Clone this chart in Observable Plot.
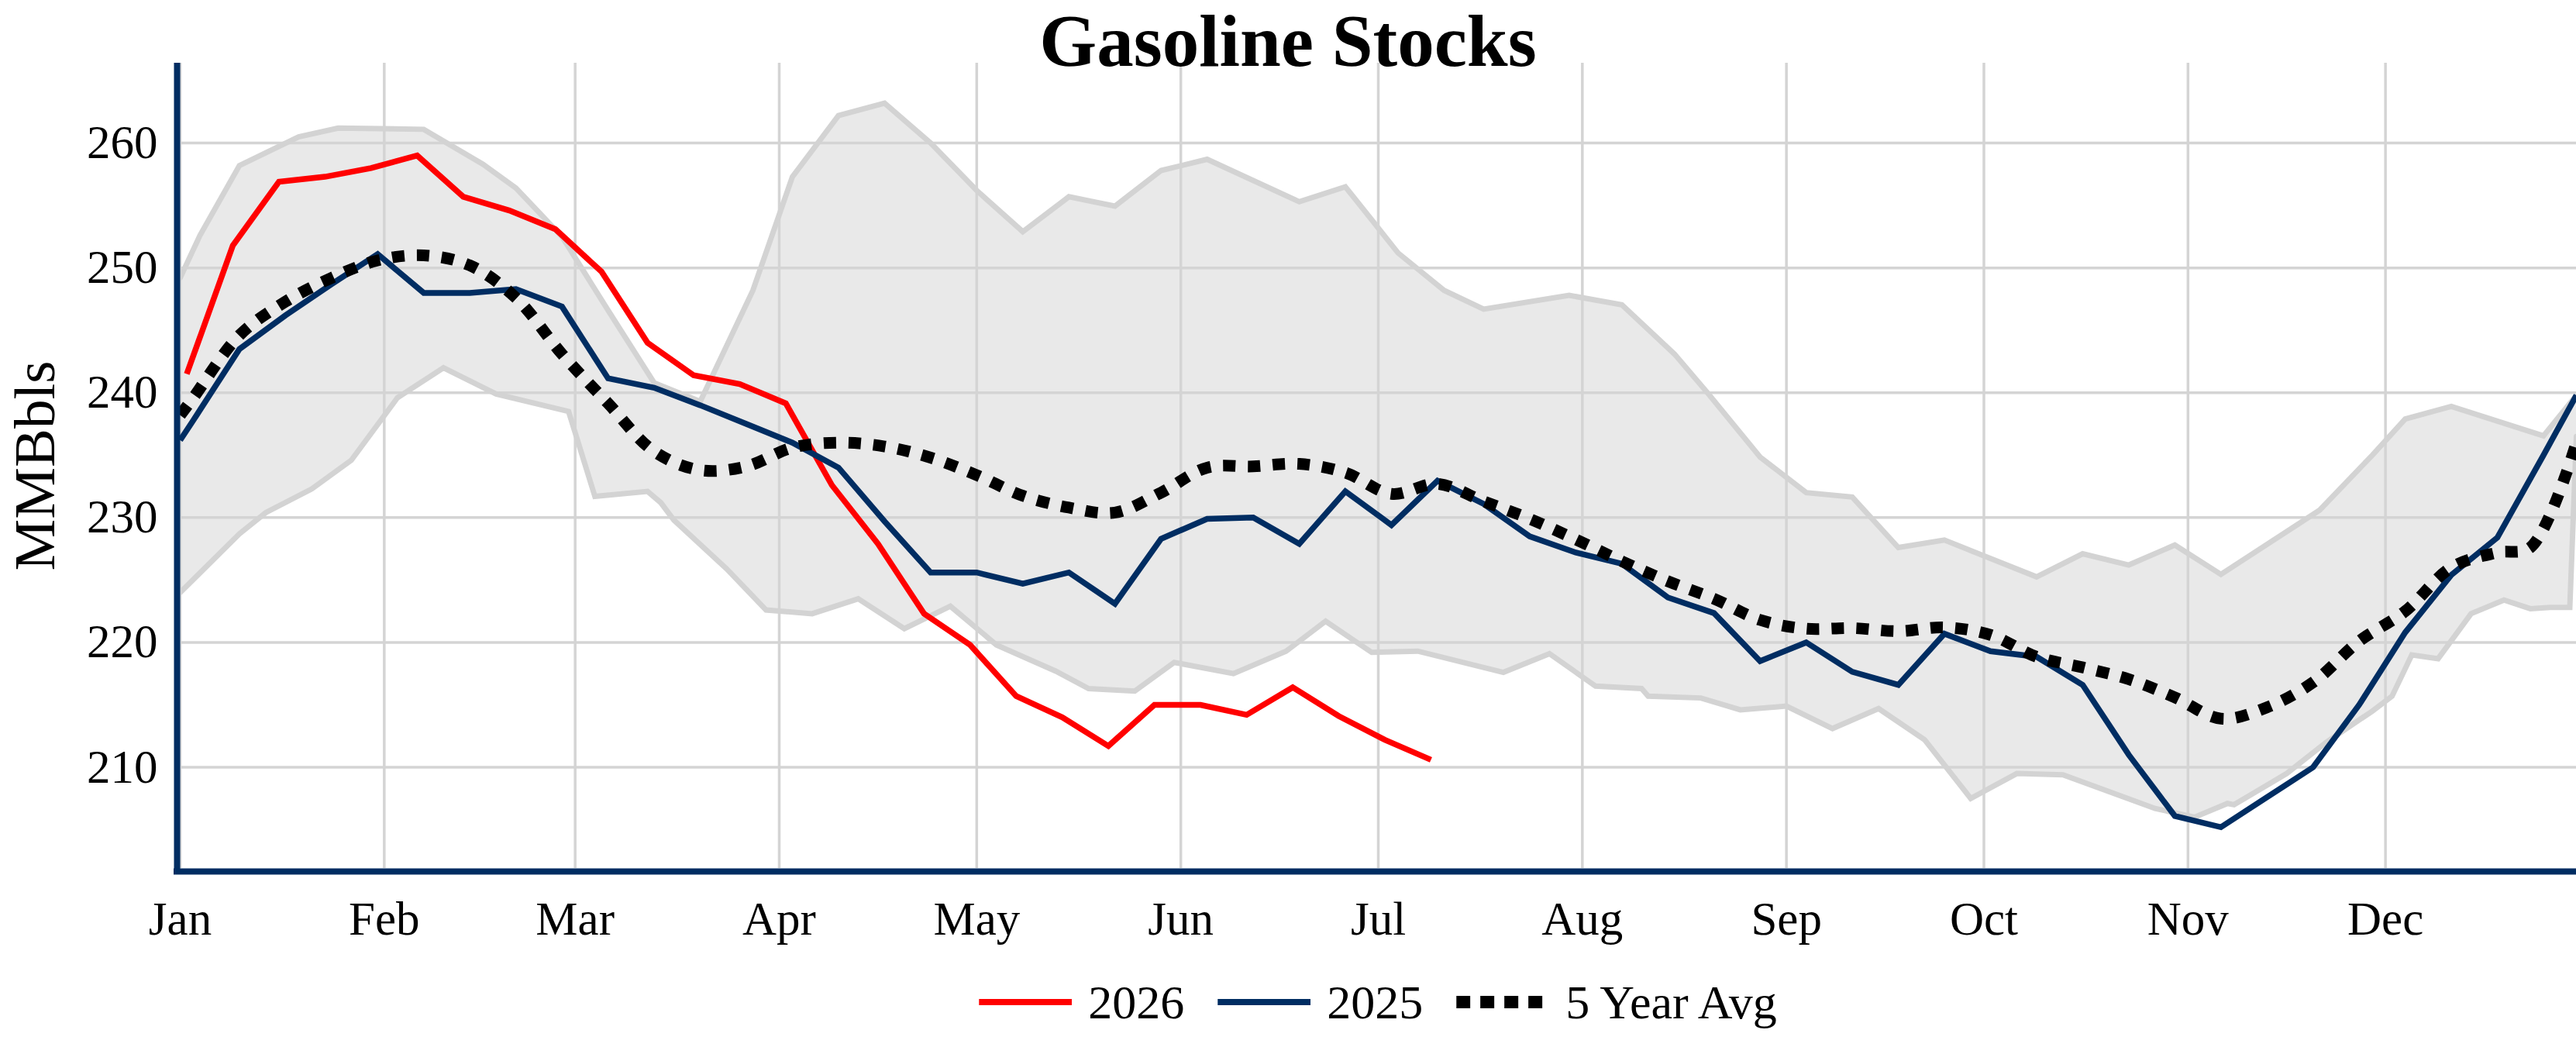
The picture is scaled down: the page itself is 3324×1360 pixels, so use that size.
<!DOCTYPE html>
<html>
<head>
<meta charset="utf-8">
<script src="https://cdn.jsdelivr.net/npm/d3@7"></script>
<script src="https://cdn.jsdelivr.net/npm/@observablehq/plot@0.6"></script>
<style>
html, body { margin: 0; padding: 0; background: #fff; }
#wrap { position: relative; width: 3324px; height: 1360px; overflow: hidden; font-family: "Liberation Serif", "Times New Roman", serif; color: #000; }
#chart { position: absolute; left: 0; top: 0; }
#title { position: absolute; left: 0; top: 0; width: 3324px; text-align: center; font-weight: bold; font-size: 95px; line-height: 106px; }
#legend { position: absolute; top: 1258px; left: 1778px; transform: translateX(-50%); display: flex; align-items: center; height: 70px; font-size: 62px; line-height: 70px; white-space: nowrap; }
#legend .item { display: flex; align-items: center; }
#legend svg { margin-right: 21px; }
#legend .lab { margin-right: 43px; }
#legend .item:last-child .lab { margin-right: 0; }
</style>
</head>
<body>
<div id="wrap">
  <div id="chart"></div>
  <div id="title">Gasoline Stocks</div>
  <div id="legend"></div>
</div>
<script>
// ---------- data ----------
const monthLabels = ["Jan","Feb","Mar","Apr","May","Jun","Jul","Aug","Sep","Oct","Nov","Dec"];
const yTicks = [210, 220, 230, 240, 250, 260];

const dates2026 = ["2026-01-02","2026-01-09","2026-01-16","2026-01-23","2026-01-30",
  "2026-02-06","2026-02-13","2026-02-20","2026-02-27",
  "2026-03-06","2026-03-13","2026-03-20","2026-03-27",
  "2026-04-03","2026-04-10","2026-04-17","2026-04-24",
  "2026-05-01","2026-05-08","2026-05-15","2026-05-22","2026-05-29",
  "2026-06-05","2026-06-12","2026-06-19","2026-06-26",
  "2026-07-03","2026-07-10"];
const stocks2026 = [241.5,251.8,256.9,257.3,258.0,259.0,255.7,254.6,253.1,249.7,244.0,241.4,240.7,239.15,
  232.6,227.9,222.3,219.8,215.7,214.0,211.7,215.0,215.0,214.2,216.4,214.1,212.2,210.6];

const dates2025 = ["2025-01-01","2025-01-03","2025-01-10","2025-01-17","2025-01-24","2025-01-31",
  "2025-02-07","2025-02-14","2025-02-21","2025-02-28",
  "2025-03-07","2025-03-14","2025-03-21","2025-03-28",
  "2025-04-04","2025-04-11","2025-04-18","2025-04-25",
  "2025-05-02","2025-05-09","2025-05-16","2025-05-23","2025-05-30",
  "2025-06-06","2025-06-13","2025-06-20","2025-06-27",
  "2025-07-04","2025-07-11","2025-07-18","2025-07-25",
  "2025-08-01","2025-08-08","2025-08-15","2025-08-22","2025-08-29",
  "2025-09-05","2025-09-12","2025-09-19","2025-09-26",
  "2025-10-03","2025-10-10","2025-10-17","2025-10-24","2025-10-31",
  "2025-11-07","2025-11-14","2025-11-21","2025-11-28",
  "2025-12-05","2025-12-12","2025-12-19","2025-12-26","2025-12-31"];
const stocks2025 = [236.2,237.8,243.5,246.2,248.7,251.1,248.0,248.0,248.3,246.9,241.15,240.4,239.0,237.5,
  236.0,234.0,229.7,225.6,225.6,224.7,225.6,223.1,228.3,229.9,230.0,227.9,232.1,229.4,232.95,231.1,
  228.5,227.2,226.3,223.6,222.35,218.5,220.0,217.65,216.6,220.7,219.3,218.85,216.6,211.0,206.1,205.2,
  207.6,210.0,215.0,220.8,225.4,228.4,235.0,239.8];

// day-of-year positions (0 = Jan 1) for the 5-year statistics
const avgDay = [0,2,9,16,23,30,37,44,51,58,65,72,79,86,93,100,107,114,121,128,135,142,149,156,163,170,177,184,
  191,198,205,212,219,226,233,240,247,254,261,268,275,282,289,296,303,310,317,324,331,338,345,352,357,364];
const avgValue = [238.2,239.6,244.6,247.3,249.2,250.6,251.0,250.2,247.6,243.1,239.15,235.3,233.8,234.1,235.6,
  236.0,235.7,234.8,233.4,231.75,230.8,230.4,232.0,234.0,234.1,234.3,233.6,231.9,232.7,231.3,229.9,228.25,
  226.5,224.9,223.5,221.8,221.1,221.15,220.9,221.2,220.6,218.85,218.0,217.05,215.6,213.9,214.8,216.8,220.1,
  222.5,226.0,227.2,227.6,236.0];

const upperDay = [0,3,9,18,24,37,46,51,58,65,72,79,87,93,100,107,114,121,128,135,142,149,156,170,177,185,192,
  198,211,219,227,232,240,247,254,261,268,282,289,296,303,310,325,333,338,345,359,364];
const upperValue = [249.2,252.6,258.2,260.5,261.2,261.1,258.3,256.4,252.5,246.6,240.8,239.3,248.2,257.3,262.2,
  263.2,260.0,256.2,252.9,255.7,254.95,257.8,258.7,255.3,256.5,251.2,248.2,246.7,247.8,247.05,243.1,240.0,
  234.85,232.0,231.65,227.6,228.2,225.25,227.1,226.2,227.8,225.45,230.6,235.0,237.9,238.9,236.55,239.8];

const lowerDay = [0,9,13,20,26,33,40,48,59,63,71,73,75,83,89,96,103,110,117,124,133,138,145,151,160,168,174,
  181,188,201,208,215,222,223,231,237,244,251,258,265,272,279,286,300,306,311,312,320,326,333,336,339,343,
  348,353,357,360,363,364];
const lowerValue = [224.0,228.7,230.4,232.3,234.6,239.6,242.0,239.9,238.5,231.7,232.1,231.2,229.8,225.9,222.6,
  222.3,223.5,221.1,222.9,219.8,217.7,216.3,216.1,218.4,217.5,219.3,221.7,219.2,219.3,217.6,219.1,216.5,
  216.3,215.7,215.55,214.6,214.9,213.1,214.7,212.2,207.5,209.5,209.4,206.7,206.0,207.1,207.0,209.5,212.0,
  214.5,215.7,219.0,218.7,222.3,223.4,222.7,222.8,222.8,236.5];

// ---------- styling ----------
const NAVY = "#002d62";
const RED = "#ff0000";
const GRID = "#d4d4d4";
const BANDLINE = "#d3d3d3";

// ---------- build tables ----------
const BASE = Date.UTC(2024, 0, 1);
const atDay = d => new Date(BASE + d * 864e5);
const dayOf = s => { const t = new Date(s + "T00:00:00Z"); return d3.utcDay.count(d3.utcYear(t), t); };

const s2026 = dates2026.map((s, i) => ({x: atDay(dayOf(s)), y: stocks2026[i]}));
const s2025 = dates2025.map((s, i) => ({x: atDay(dayOf(s)), y: stocks2025[i]}));
const avg = avgDay.map((d, i) => ({x: atDay(d), y: avgValue[i]}));
const upper = upperDay.map((d, i) => ({x: atDay(d), y: upperValue[i]}));
const lower = lowerDay.map((d, i) => ({x: atDay(d), y: lowerValue[i]}));
const band = upper.concat(lower.slice().reverse());
const monthTicks = monthLabels.map((m, i) => new Date(Date.UTC(2024, i, 1)));
const yMin = 201.9, yMax = 266.4;

const chart = Plot.plot({
  width: 3324,
  height: 1360,
  marginLeft: 232,
  marginRight: 0,
  marginTop: 81,
  marginBottom: 240,
  style: {fontFamily: '"Liberation Serif", "Times New Roman", serif', fontSize: "61px", color: "#000", background: "transparent", overflow: "visible"},
  x: {type: "utc", domain: [atDay(0), atDay(364)]},
  y: {domain: [yMin, yMax]},
  marks: [
    Plot.gridX(monthTicks, {stroke: GRID, strokeOpacity: 1, strokeWidth: 3.5}),
    Plot.gridY(yTicks, {stroke: GRID, strokeOpacity: 1, strokeWidth: 3.5}),
    Plot.line(band, {x: "x", y: "y", fill: "#d3d3d3", fillOpacity: 0.5, stroke: "none"}),
    Plot.line(upper, {x: "x", y: "y", stroke: BANDLINE, strokeWidth: 7, strokeLinejoin: "miter", strokeMiterlimit: 2}),
    Plot.line(lower, {x: "x", y: "y", stroke: BANDLINE, strokeWidth: 7, strokeLinejoin: "miter", strokeMiterlimit: 2}),
    Plot.line(s2026, {x: "x", y: "y", stroke: RED, strokeWidth: 7.5, strokeLinecap: "butt", strokeLinejoin: "miter", strokeMiterlimit: 2}),
    Plot.line(s2025, {x: "x", y: "y", stroke: NAVY, strokeWidth: 7.5, strokeLinecap: "butt", strokeLinejoin: "miter", strokeMiterlimit: 2}),
    Plot.line(avg, {x: "x", y: "y", curve: "catmull-rom", stroke: "#000", strokeWidth: 15, strokeDasharray: "16,16", strokeLinecap: "butt"}),
    Plot.axisX({ticks: monthTicks, tickFormat: d => monthLabels[d.getUTCMonth()], tickSize: 0, tickPadding: 42, fontSize: 61, label: null}),
    Plot.axisY({ticks: yTicks, tickSize: 0, tickPadding: 29, fontSize: 61, label: null}),
    Plot.ruleX([atDay(0)], {stroke: NAVY, strokeWidth: 8, dx: -4, insetBottom: -8}),
    Plot.ruleY([yMin], {stroke: NAVY, strokeWidth: 8, dy: 4, insetLeft: -8}),
    Plot.text(["MMBbls"], {text: d => d, frameAnchor: "left", dx: -163, rotate: -90, textAnchor: "middle", lineAnchor: "bottom", fontSize: 75})
  ]
});
document.getElementById("chart").appendChild(chart);

// ---------- legend ----------
const legendItems = [
  {label: "2026", stroke: RED, width: 8, dash: null},
  {label: "2025", stroke: NAVY, width: 8, dash: null},
  {label: "5 Year Avg", stroke: "#000", width: 16, dash: "18,13"}
];
const legend = document.getElementById("legend");
const NS = "http://www.w3.org/2000/svg";
for (const it of legendItems) {
  const item = document.createElement("div");
  item.className = "item";
  const svg = document.createElementNS(NS, "svg");
  svg.setAttribute("width", "120");
  svg.setAttribute("height", "24");
  const ln = document.createElementNS(NS, "line");
  ln.setAttribute("x1", "0"); ln.setAttribute("x2", "120");
  ln.setAttribute("y1", "12"); ln.setAttribute("y2", "12");
  ln.setAttribute("stroke", it.stroke);
  ln.setAttribute("stroke-width", it.width);
  if (it.dash) ln.setAttribute("stroke-dasharray", it.dash);
  svg.appendChild(ln);
  const lab = document.createElement("span");
  lab.className = "lab";
  lab.textContent = it.label;
  item.appendChild(svg);
  item.appendChild(lab);
  legend.appendChild(item);
}
</script>
</body>
</html>
